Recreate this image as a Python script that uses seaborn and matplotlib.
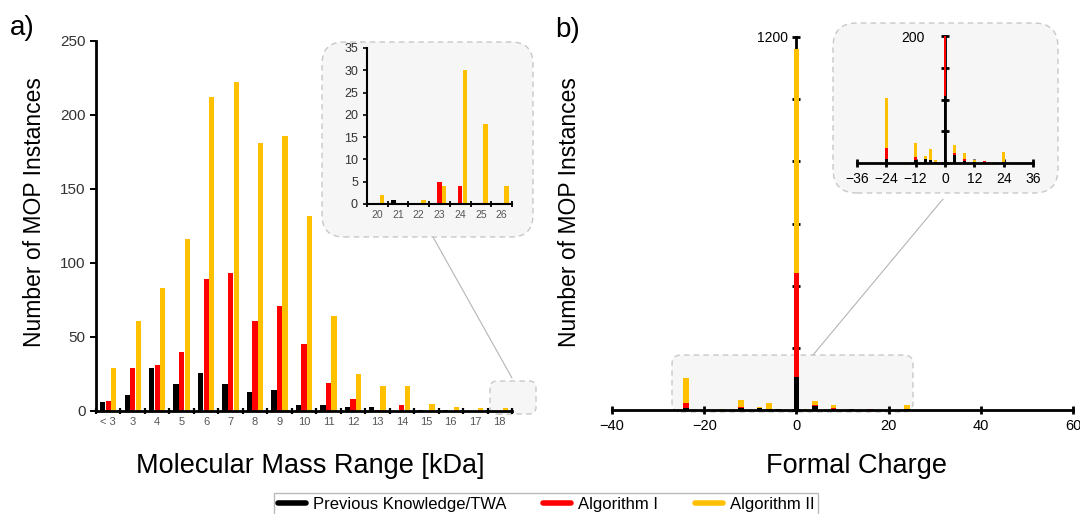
import numpy as np
import pandas as pd
import seaborn as sns
import matplotlib.pyplot as plt
from matplotlib.patches import FancyBboxPatch
from matplotlib.lines import Line2D

# --- data ---
SERIES = ["Previous Knowledge/TWA", "Algorithm I", "Algorithm II"]
COLORS = ["#000000", "#ff0000", "#ffc000"]

mass_bins = ["< 3", "3", "4", "5", "6", "7", "8", "9", "10", "11", "12",
             "13", "14", "15", "16", "17", "18"]
mass_prev = [6, 11, 29, 18, 26, 18, 13, 14, 4, 4, 3, 3, 0, 1, 1, 0, 0]
mass_alg1 = [7, 29, 31, 40, 89, 93, 61, 71, 45, 19, 8, 1, 4, 0, 0, 0, 0]
mass_alg2 = [29, 61, 83, 116, 212, 222, 181, 186, 132, 64, 25, 17, 17, 5, 3, 2, 2]

big_bins = ["20", "21", "22", "23", "24", "25", "26"]
big_prev = [0, 1, 0, 0, 0, 0, 0]
big_alg1 = [0, 0, 0, 5, 4, 0, 0]
big_alg2 = [2, 0, 1, 4, 30, 18, 4]

charges = [-36, -24, -16, -12, -10, -8, -6, -4, -2, 0, 2, 4, 8, 12, 16, 18, 20, 24, 32]
charge_prev = [0, 6, 0, 5, 0, 6, 4, 2, 0, 106, 0, 13, 3, 2, 0, 0, 0, 2, 0]
charge_alg1 = [0, 24, 0, 10, 0, 7, 0, 0, 0, 440, 0, 15, 6, 2, 3, 0, 0, 0, 0]
charge_alg2 = [1, 103, 2, 31, 1, 11, 22, 4, 1, 1160, 2, 29, 15, 4, 3, 1, 1, 17, 1]

W, H = 1080, 514

sns.set_style("ticks")
plt.rcParams["font.family"] = ["Liberation Sans", "DejaVu Sans"]
plt.rcParams.update({"text.color": "black", "axes.edgecolor": "black",
                     "xtick.color": "black", "ytick.color": "black"})

fig = plt.figure(figsize=(W / 100, H / 100), dpi=100)


def fx(x):
    return x / W


def fy(y):
    return 1 - y / H


def axes_at(x0, y0, x1, y1, z=0):
    ax = fig.add_axes([fx(x0), fy(y1), fx(x1) - fx(x0), fy(y0) - fy(y1)], zorder=z)
    ax.set_facecolor("none")
    return ax


def round_box(x0, y0, x1, y1, r, z):
    box = FancyBboxPatch((fx(x0), fy(y1)), fx(x1) - fx(x0), fy(y0) - fy(y1),
                         boxstyle=f"round,pad=0,rounding_size={r / W}",
                         mutation_aspect=W / H, transform=fig.transFigure,
                         facecolor="#f6f6f6", edgecolor="#c8c8c8", lw=1.0,
                         linestyle=(0, (4, 3)), zorder=z)
    fig.add_artist(box)


def connector(p, q):
    fig.add_artist(Line2D([fx(p[0]), fx(q[0])], [fy(p[1]), fy(q[1])],
                          transform=fig.transFigure, color="#b5b5b5", lw=0.8, zorder=0.6))


def long_table(bins, *cols):
    return pd.DataFrame({
        "bin": bins * len(cols),
        "count": [v for c in cols for v in c],
        "series": [s for s, c in zip(SERIES, cols) for _ in c],
    })


def grouped_bars(ax, bins, cols, ymax, step, tick_fs, lab_fs):
    df = long_table(bins, *cols)
    sns.barplot(data=df, x="bin", y="count", hue="series", order=bins,
                hue_order=SERIES, palette=COLORS, saturation=1, width=0.68,
                gap=0.06, linewidth=0, errorbar=None, legend=False, ax=ax)
    ax.set_xlim(-0.5, len(bins) - 0.5)
    ax.set_ylim(0, ymax)
    ax.set_yticks(np.arange(0, ymax + 1, step))
    ax.set_xticks(np.arange(-0.5, len(bins)), minor=True)
    ax.tick_params(axis="x", which="major", length=0, labelsize=lab_fs,
                   labelcolor="#555555", pad=4)
    ax.tick_params(axis="x", which="minor", direction="inout", length=5, width=1.6)
    ax.tick_params(axis="y", direction="out", length=4, width=1.4,
                   labelsize=tick_fs, labelcolor="#333333")
    ax.set_xlabel("")
    ax.set_ylabel("")
    for side in ["top", "right"]:
        ax.spines[side].set_visible(False)
    for side in ["left", "bottom"]:
        ax.spines[side].set_linewidth(2)


def charge_bars(ax, ymax, step, label_fs):
    # overlay: the largest series first, the subsets on top of it
    for vals, col in [(charge_alg2, COLORS[2]), (charge_alg1, COLORS[1]),
                      (charge_prev, COLORS[0])]:
        sns.barplot(x=charges, y=vals, color=col, native_scale=True, width=0.6,
                    saturation=1, linewidth=0, errorbar=None, ax=ax)
    ax.set_ylim(0, ymax)
    ticks = np.arange(0, ymax + 1, step)
    ax.set_yticks(ticks)
    ax.set_yticklabels([""] * (len(ticks) - 1) + [str(ymax)], fontsize=label_fs)
    ax.spines["left"].set_position(("data", 0))
    ax.spines["left"].set_zorder(0.5)
    for side in ["top", "right"]:
        ax.spines[side].set_visible(False)
    for side in ["left", "bottom"]:
        ax.spines[side].set_linewidth(2)
    ax.tick_params(axis="both", direction="inout", length=6, width=2, colors="black")
    ax.set_xlabel("")
    ax.set_ylabel("")


# --- panel a ---
axa = axes_at(96, 41, 512, 411)
grouped_bars(axa, mass_bins, [mass_prev, mass_alg1, mass_alg2], 250, 50, 11, 8)

round_box(490, 381, 536, 414, 7, -1)
round_box(322, 42, 533, 237, 22, 0.5)
connector((433, 237), (512, 378))

axa_in = axes_at(367, 48, 512, 204, z=1)
grouped_bars(axa_in, big_bins, [big_prev, big_alg1, big_alg2], 35, 5, 9, 7.5)
axa_in.tick_params(axis="y", length=3, width=1.2)
axa_in.tick_params(axis="x", which="minor", length=4, width=1.3)
for side in ["left", "bottom"]:
    axa_in.spines[side].set_linewidth(1.5)

# --- panel b ---
axb = axes_at(612, 37, 1073, 410)
charge_bars(axb, 1200, 200, 12)
axb.set_xlim(-40, 60)
axb.set_xticks(np.arange(-40, 61, 20))
axb.tick_params(axis="x", labelsize=10.5)
axb.tick_params(axis="y", pad=3)

round_box(672, 355, 913, 412, 9, -1)
round_box(833, 23, 1058, 193, 24, 0.5)
connector((813, 355), (943, 199))

axb_in = axes_at(857, 36, 1033, 163, z=1)
charge_bars(axb_in, 200, 50, 13)
axb_in.set_xlim(-36, 36)
axb_in.set_xticks(np.arange(-36, 37, 12))
axb_in.tick_params(axis="x", labelsize=10)
axb_in.tick_params(axis="y", pad=12)

# --- labels ---
fig.text(fx(10), fy(28), "a)", fontsize=20, va="center", ha="left")
fig.text(fx(555), fy(30), "b)", fontsize=20, va="center", ha="left")
fig.text(fx(35), fy(212), "Number of MOP Instances", rotation=90,
         fontsize=16.5, ha="center", va="center")
fig.text(fx(570), fy(212), "Number of MOP Instances", rotation=90,
         fontsize=16.5, ha="center", va="center")
fig.text(fx(310), fy(466), "Molecular Mass Range [kDa]", fontsize=19.5,
         ha="center", va="center")
fig.text(fx(857), fy(466), "Formal Charge", fontsize=19.5, ha="center", va="center")

handles = [Line2D([], [], color=c, lw=4) for c in COLORS]
fig.legend(handles, SERIES, loc="upper center", bbox_to_anchor=(fx(546), fy(485)),
           ncol=3, fontsize=12, handlelength=1.7, handletextpad=0.4,
           columnspacing=2.2, frameon=True, fancybox=False, edgecolor="#aaaaaa",
           borderpad=0.2)

fig.savefig("out.png", dpi=100)
